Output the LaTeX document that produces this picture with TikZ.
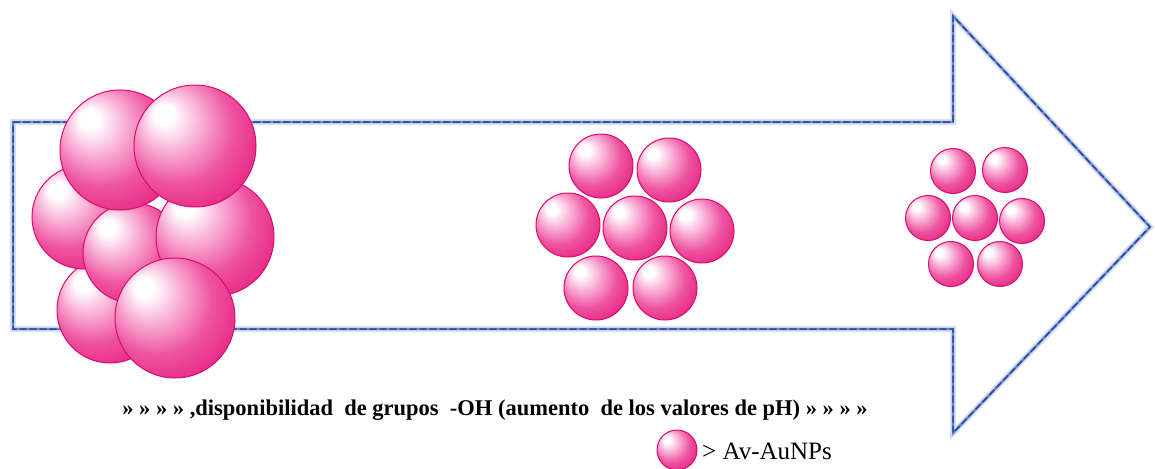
\documentclass[tikz,border=0pt]{standalone}
\usepackage{fontspec}
\setmainfont{Liberation Serif}
\usetikzlibrary{calc}
\definecolor{pinkhi}{RGB}{250,190,222}
\definecolor{pinkmid}{RGB}{238,84,160}
\definecolor{pinkedge}{RGB}{228,18,120}
\definecolor{pinkline}{RGB}{218,10,110}
\definecolor{arrowdash}{RGB}{46,74,150}
\definecolor{arrowglow}{RGB}{150,178,228}
\definecolor{arrowline}{RGB}{106,138,208}
\pgfdeclareradialshading{pinkball}{\pgfpoint{-14bp}{14bp}}{%
  color(0bp)=(white); color(4bp)=(white); color(11bp)=(pinkhi);
  color(23bp)=(pinkmid); color(38bp)=(pinkedge); color(50bp)=(pinkedge)}
\tikzset{
  ball/.style={circle, inner sep=0pt, minimum size=#1, shading=pinkball,
    draw=pinkline, line width=1pt},
  glow/.style={line join=miter, arrowglow, line width=6pt, opacity=0.4},
  core/.style={line join=miter, arrowline, line width=2.4pt},
  dashline/.style={line join=miter, arrowdash, line width=1.5pt,
    dash pattern=on 7pt off 3pt},
  caption/.style={font=\bfseries\fontsize{22.5}{26}\selectfont, inner sep=0pt},
  legendtext/.style={font=\fontsize{25}{29}\selectfont, anchor=west, inner sep=0pt}
}
\begin{document}
\begin{tikzpicture}[x=1pt,y=-1pt]
\useasboundingbox (0,0) rectangle (1155,468);
% block arrow outline
\coordinate (a1) at (13,122);
\coordinate (a2) at (953,122);
\coordinate (a3) at (953,16);
\coordinate (a4) at (1150,227);
\coordinate (a5) at (953,433);
\coordinate (a6) at (953,329);
\coordinate (a7) at (13,329);
\fill[white] (a1)--(a2)--(a3)--(a4)--(a5)--(a6)--(a7)--cycle;
\draw[glow] (a1)--(a2)--(a3)--(a4)--(a5)--(a6)--(a7)--cycle;
\draw[core] (a1)--(a2)--(a3)--(a4)--(a5)--(a6)--(a7)--cycle;
\draw[dashline] (a1)--(a2)--(a3)--(a4)--(a5)--(a6)--(a7)--cycle;

% large aggregate
\node[ball=106pt] (bl) at (110,310) {};
\node[ball=104pt] (ml) at (84,217) {};
\node[ball=100pt] (mc) at (133,253) {};
\node[ball=118pt] (mr) at (215,237) {};
\node[ball=120pt] (ul) at (120,150) {};
\node[ball=122pt] (ur) at (195,146) {};
\node[ball=120pt] (br) at (175,318) {};

% medium cluster
\node[ball=64pt] (m1) at (601,166) {};
\node[ball=64pt] (m2) at (669,170) {};
\node[ball=64pt] (m3) at (568,225) {};
\node[ball=64pt] (m4) at (635,228) {};
\node[ball=64pt] (m5) at (702,231) {};
\node[ball=64pt] (m6) at (596,288) {};
\node[ball=64pt] (m7) at (665,288) {};

% small cluster
\node[ball=45pt] (s1) at (953,171) {};
\node[ball=45pt] (s2) at (1005,170) {};
\node[ball=45pt] (s3) at (928,218) {};
\node[ball=45pt] (s4) at (975,218) {};
\node[ball=45pt] (s5) at (1022,221) {};
\node[ball=45pt] (s6) at (951,264) {};
\node[ball=45pt] (s7) at (1000,264) {};

% caption
\node[caption] (cap) at (495,410) {» » » » ,disponibilidad\ \ de grupos\ \ -OH (aumento\ \ de los valores de pH) » » » »};

% legend
\node[ball=40pt] (lg) at (677,450) {};
\node[legendtext] (lgt) at (702,451) {> Av-AuNPs};
\end{tikzpicture}
\end{document}
